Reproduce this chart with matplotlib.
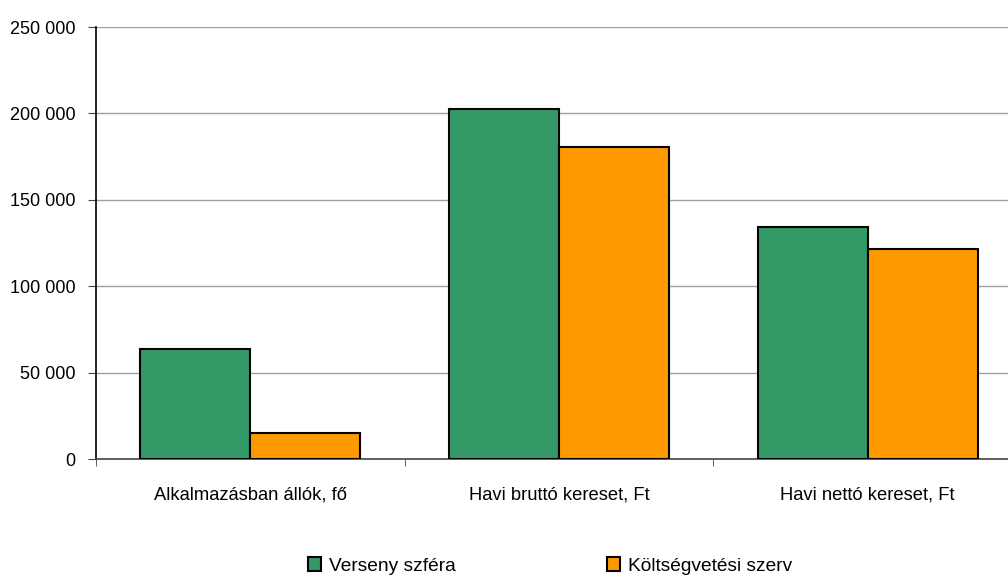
import numpy as np
import matplotlib
matplotlib.use('Agg')
import matplotlib.pyplot as plt
from matplotlib.ticker import FuncFormatter, FixedLocator

plt.rcParams['font.family'] = ['Liberation Sans', 'DejaVu Sans']

categories = ['Alkalmazásban állók, fő', 'Havi bruttó kereset, Ft', 'Havi nettó kereset, Ft']
series_names = ['Verseny szféra', 'Költségvetési szerv']
verseny = [63500, 202500, 134000]
koltseg = [15000, 180500, 121500]
colors = ['#339966', '#FF9900']

fig = plt.figure(figsize=(10.08, 5.77), dpi=100)
ax = fig.add_axes([96 / 1008, 118 / 577, 926 / 1008, 432 / 577])

x = np.arange(len(categories))
w = 0.356
ax.bar(x - w / 2, verseny, w, color=colors[0], edgecolor='black', linewidth=1.5,
       label=series_names[0], zorder=3)
ax.bar(x + w / 2, koltseg, w, color=colors[1], edgecolor='black', linewidth=1.5,
       label=series_names[1], zorder=3)

ax.set_xlim(-0.5, 2.5)
ax.set_ylim(0, 250000)
ax.set_yticks(np.arange(0, 250001, 50000))
ax.yaxis.set_major_formatter(FuncFormatter(lambda v, p: f'{int(v):,}'.replace(',', ' ')))
ax.grid(axis='y', color='#a0a0a0', linewidth=1, zorder=0)

ax.set_xticks(x)
ax.set_xticklabels(categories)
ax.xaxis.set_minor_locator(FixedLocator([-0.5, 0.5, 1.5, 2.5]))
ax.tick_params(axis='x', which='major', length=0, pad=20, labelsize=13.2)
ax.tick_params(axis='x', which='minor', length=5, direction='out', color='#444444')
ax.tick_params(axis='y', length=6, direction='out', pad=9, labelsize=13, color='#444444')

for s in ['top', 'right']:
    ax.spines[s].set_visible(False)
ax.spines['left'].set_color('black')
ax.spines['left'].set_linewidth(1.2)
ax.spines['bottom'].set_color('#444444')
ax.spines['bottom'].set_linewidth(1.2)

fig.legend(loc='center', bbox_to_anchor=(550 / 1008, 11 / 577), ncol=2, frameon=False,
           fontsize=13.8, handlelength=0.7, handleheight=0.7, handletextpad=0.4,
           columnspacing=7.9, borderaxespad=0)

fig.savefig('out.png', dpi=100)
